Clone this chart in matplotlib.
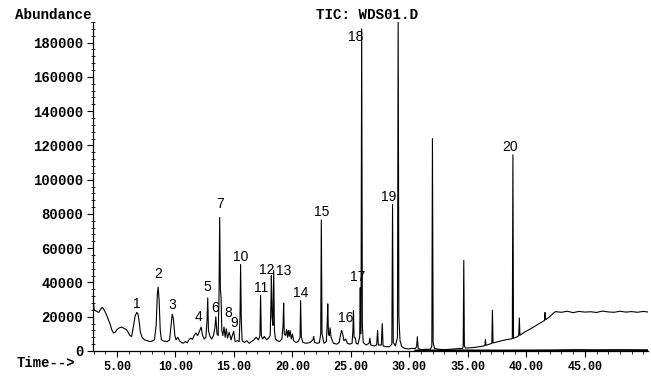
import matplotlib
matplotlib.use("Agg")
import matplotlib.pyplot as plt
from matplotlib.ticker import MultipleLocator, FuncFormatter

# ---------------- data ----------------
time_min = [
    2.95, 3.05, 3.3, 3.45, 3.6, 3.75, 3.9, 4.05, 4.2, 4.4, 4.55, 4.7, 4.85, 5.0, 5.2, 5.4, 5.6, 5.8, 5.95, 6.1,
    6.25, 6.4, 6.55, 6.7, 6.8, 6.9, 7.0, 7.15, 7.35, 7.6, 7.8, 8.0, 8.2, 8.35, 8.45, 8.52, 8.6, 8.7, 8.8, 9.0,
    9.3, 9.5, 9.62, 9.72, 9.82, 9.95, 10.05, 10.2, 10.35, 10.5, 10.65, 10.85, 11.0, 11.15, 11.3, 11.45, 11.6, 11.75, 11.9, 12.05,
    12.2, 12.3, 12.45, 12.6, 12.7, 12.76, 12.82, 12.95, 13.1, 13.25, 13.38, 13.45, 13.55, 13.65, 13.72, 13.78, 13.84, 13.9, 13.96, 14.05,
    14.15, 14.25, 14.35, 14.45, 14.6, 14.75, 14.9, 14.98, 15.1, 15.3, 15.45, 15.52, 15.57, 15.63, 15.7, 15.9, 16.1, 16.3, 16.5, 16.7,
    16.9, 17.1, 17.22, 17.28, 17.34, 17.45, 17.6, 17.8, 17.95, 18.1, 18.17, 18.2, 18.26, 18.33, 18.4, 18.46, 18.55, 18.7, 18.9, 19.1,
    19.2, 19.25, 19.3, 19.4, 19.5, 19.58, 19.65, 19.72, 19.8, 19.9, 20.0, 20.1, 20.3, 20.5, 20.65, 20.7, 20.76, 20.9, 21.2, 21.5,
    21.75, 21.82, 21.9, 22.1, 22.3, 22.42, 22.47, 22.53, 22.7, 22.9, 22.97, 23.02, 23.08, 23.15, 23.22, 23.3, 23.5, 23.8, 24.0, 24.1,
    24.2, 24.3, 24.4, 24.55, 24.7, 24.9, 25.1, 25.17, 25.22, 25.27, 25.38, 25.45, 25.6, 25.75, 25.8, 25.84, 25.87, 25.92, 25.98, 26.05,
    26.3, 26.55, 26.62, 26.7, 27.0, 27.2, 27.28, 27.35, 27.6, 27.68, 27.75, 28.0, 28.3, 28.5, 28.56, 28.62, 28.8, 28.98, 29.04, 29.1,
    29.2, 29.35, 29.6, 29.9, 30.2, 30.5, 30.62, 30.68, 30.75, 31.0, 31.4, 31.8, 31.92, 31.97, 32.03, 32.15, 32.5, 33.0, 33.5, 34.0,
    34.55, 34.6, 34.65, 34.7, 34.8, 35.3, 35.8, 36.3, 36.45, 36.5, 36.55, 36.8, 37.05, 37.1, 37.15, 37.6, 38.2, 38.8, 38.85, 38.9,
    39.2, 39.35, 39.4, 39.45, 39.8, 40.3, 40.7, 41.1, 41.55, 41.6, 41.65, 42.0, 42.3, 42.5, 42.7, 43.0, 43.5, 44.0, 44.5, 45.0,
    45.5, 46.0, 46.5, 47.0, 47.5, 48.0, 48.5, 49.0, 49.5, 50.0, 50.35,
]
abundance = [
    31000, 24000, 23000, 22500, 24500, 25500, 24000, 22000, 19500, 16000, 12500, 10500, 11000, 12500, 13500, 14000, 13200, 12500, 11000, 9000,
    8500, 14000, 20500, 22500, 21500, 17000, 11000, 8000, 6500, 6000, 5500, 5800, 6500, 15000, 33000, 37300, 30000, 12000, 6500, 5800,
    5500, 6500, 15000, 21500, 19000, 9000, 6500, 8000, 6000, 5000, 4500, 5500, 4800, 6500, 7500, 6800, 9000, 10500, 9000, 11500,
    14000, 9500, 7000, 8000, 18000, 31000, 12000, 8500, 7000, 9000, 14000, 20000, 10000, 9000, 30000, 78000, 36000, 31000, 12000, 9000,
    14000, 8000, 13000, 7500, 11000, 6500, 10000, 11500, 5500, 6000, 5500, 20000, 50500, 18000, 6000, 5000, 6000, 4500, 5500, 6500,
    8000, 6500, 9000, 32500, 9000, 7000, 8500, 6500, 7500, 9000, 30000, 44000, 20000, 15000, 47000, 12000, 7000, 6000, 5500, 7000,
    15000, 28000, 10000, 9000, 12500, 8000, 12000, 8500, 12000, 7000, 10000, 6000, 5000, 5500, 8000, 29500, 8000, 5000, 4500, 5000,
    6500, 8500, 5000, 4500, 4800, 10000, 76500, 10000, 4500, 5500, 15000, 27500, 10000, 9000, 13500, 8000, 4500, 4000, 5000, 9000,
    12000, 10000, 6000, 7000, 4500, 4000, 4500, 12000, 23500, 8000, 7500, 4500, 4000, 8000, 37000, 10000, 30000, 188000, 15000, 5000,
    3500, 4500, 7500, 3500, 3000, 3500, 12000, 3500, 3500, 16000, 3000, 2500, 2500, 4000, 85500, 5000, 3000, 8000, 195000, 20000,
    6000, 2500, 1500, 1200, 1500, 1500, 2500, 8300, 1500, 800, 1000, 1000, 3000, 124000, 5000, 1500, 1000, 800, 1000, 1300,
    1500, 3000, 52800, 3000, 1700, 1900, 2300, 2900, 3200, 6800, 3300, 3900, 4500, 23800, 4700, 5500, 6500, 7200, 114500, 7400,
    8300, 9000, 19300, 9200, 10800, 12700, 14300, 16000, 17800, 22500, 18300, 20000, 22000, 23000, 22800, 22600, 23200, 22400, 23100, 22700,
    22900, 22500, 23300, 22800, 22600, 23200, 22700, 23000, 22600, 23100, 22800,
]

# second (flat) trace along the bottom
blank_time = [30.5, 34.0, 38.0, 42.0, 44.5, 46.0, 48.0, 50.35]
blank_abund = [300, 400, 300, 400, 600, 500, 600, 500]

peak_labels = ["1", "2", "3", "4", "5", "6", "7", "8", "9", "10",
               "11", "12", "13", "14", "15", "16", "17", "18", "19", "20"]
label_t = [6.67, 8.53, 9.76, 12.01, 12.75, 13.38, 13.80, 14.51, 15.03, 15.57,
           17.31, 17.79, 19.27, 20.73, 22.50, 24.55, 25.54, 25.40, 28.19, 38.59]
label_v = [27400, 44750, 26840, 20000, 37170, 24900, 85780, 22000, 16160, 54670,
           36590, 47260, 46860, 33670, 81280, 19080, 43350, 183400, 90030, 119200]

y_ticks = [0, 20000, 40000, 60000, 80000, 100000, 120000, 140000, 160000, 180000]
x_ticks = [5, 10, 15, 20, 25, 30, 35, 40, 45]

# ---------------- figure ----------------
W, H = 651, 376
fig = plt.figure(figsize=(W / 100, H / 100), dpi=100)
ax = fig.add_axes([93 / W, 1 - 351 / H, (648 - 93) / W, (351 - 22) / H])

ax.plot(time_min, abundance, color="black", lw=0.8)
ax.plot(blank_time, blank_abund, color="black", lw=1.3)

ax.set_xlim(2.95, 50.4)
ax.set_ylim(0, 192000)

for s in ("top", "right"):
    ax.spines[s].set_visible(False)
for s in ("left", "bottom"):
    ax.spines[s].set_linewidth(0.9)

mono = "Liberation Mono"
ax.set_yticks(y_ticks)
ax.yaxis.set_major_formatter(FuncFormatter(lambda v, p: f"{int(v)}"))
ax.yaxis.set_minor_locator(MultipleLocator(4000))
ax.set_xticks(x_ticks)
ax.xaxis.set_major_formatter(FuncFormatter(lambda v, p: f"{v:.2f}"))
ax.xaxis.set_minor_locator(MultipleLocator(1))

ax.tick_params(axis="y", which="major", direction="out", length=4, width=0.8, pad=3)
ax.tick_params(axis="y", which="minor", direction="inout", length=3, width=0.6)
ax.tick_params(axis="x", which="major", direction="out", length=4, width=0.8, pad=3)
ax.tick_params(axis="x", which="minor", direction="out", length=2.5, width=0.6)

for lab in ax.get_yticklabels():
    lab.set_fontfamily(mono)
    lab.set_fontweight("bold")
    lab.set_fontsize(10)
for lab in ax.get_xticklabels():
    lab.set_fontfamily(mono)
    lab.set_fontweight("bold")
    lab.set_fontsize(8.5)

for txt, t, v in zip(peak_labels, label_t, label_v):
    ax.text(t, v, txt, ha="center", va="center", fontsize=10,
            family="Liberation Sans", color="black", clip_on=False)

fig.text(53 / W, 1 - 15 / H, "Abundance", ha="center", va="center",
         family=mono, fontweight="bold", fontsize=10.3)
fig.text(367 / W, 1 - 15 / H, "TIC: WDS01.D", ha="center", va="center",
         family=mono, fontweight="bold", fontsize=10.3)
fig.text(46 / W, 1 - 363 / H, "Time-->", ha="center", va="center",
         family=mono, fontweight="bold", fontsize=10)

fig.savefig("out.png", dpi=100)
